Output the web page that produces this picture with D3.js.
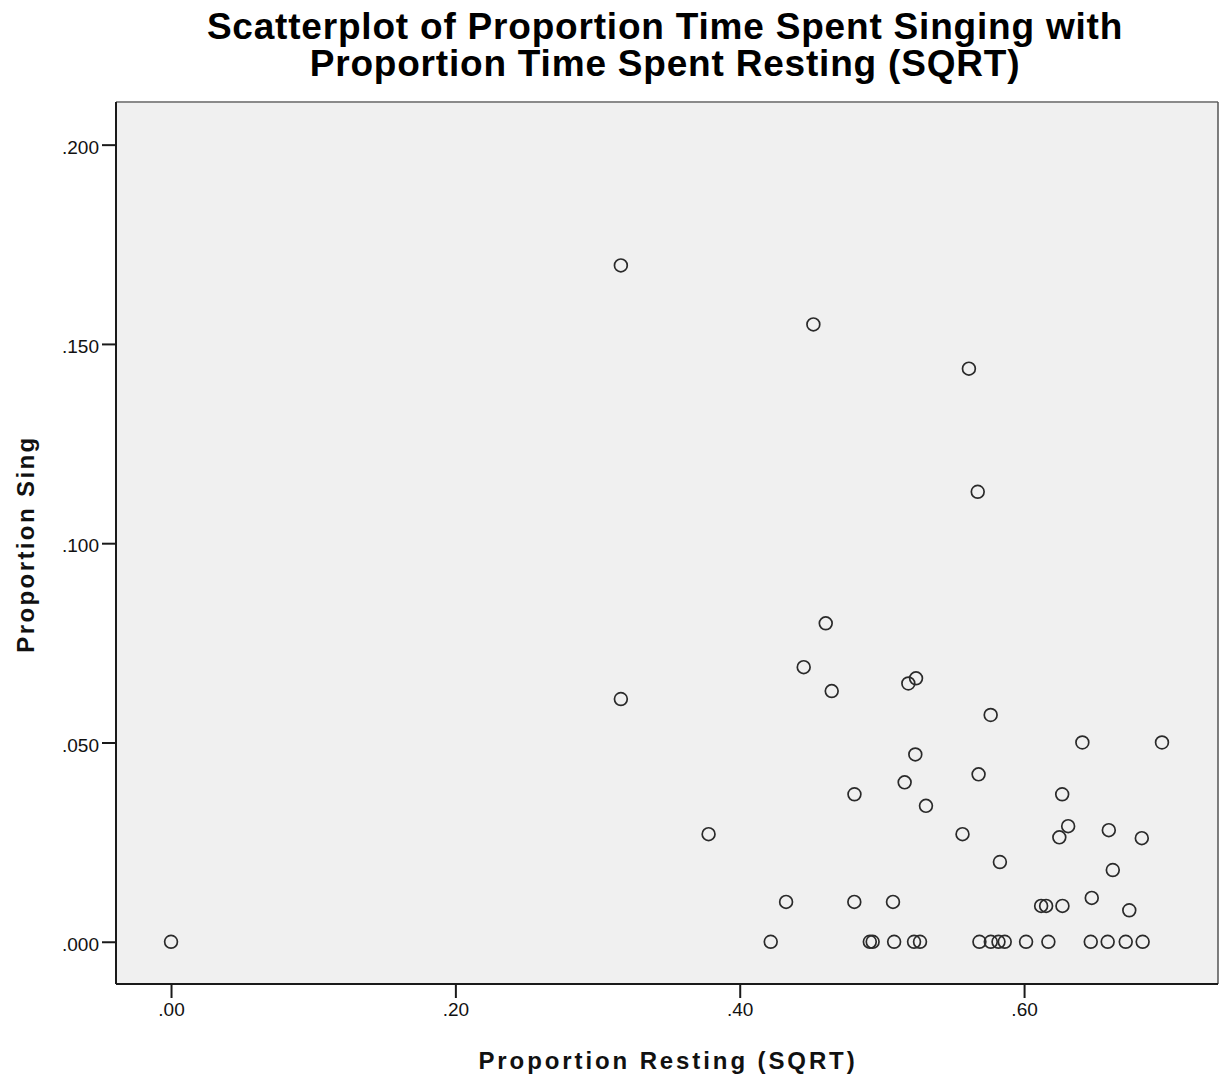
<!DOCTYPE html>
<html>
<head>
<meta charset="utf-8">
<script src="https://cdn.jsdelivr.net/npm/d3@7"></script>
<style>
body { margin: 0; background: #fff; }
</style>
</head>
<body>
<script>
var width = 1221;
var height = 1081;

// valori
var restingX = [0.000, 0.3164, 0.4518, 0.5612, 0.5674, 0.4605, 0.4450, 0.4647, 0.5186, 0.5240,
    0.3164, 0.5765, 0.6410, 0.6970, 0.5235, 0.5680, 0.5160, 0.4807, 0.6268, 0.5310,
    0.3781, 0.5567, 0.6310, 0.6248, 0.6596, 0.6828, 0.5830, 0.6624, 0.6476, 0.6740,
    0.4326, 0.4806, 0.5078, 0.6120, 0.6155, 0.6270,
    0.4218, 0.4915, 0.4935, 0.5086, 0.5226, 0.5268, 0.5686, 0.5766, 0.5820, 0.5864,
    0.6014, 0.6171, 0.6469, 0.6588, 0.6715, 0.6834];
var singY = [0.000, 0.1697, 0.1549, 0.1438, 0.1129, 0.0799, 0.0689, 0.0629, 0.0648, 0.0661,
    0.0609, 0.0569, 0.0500, 0.0500, 0.0470, 0.0420, 0.0400, 0.0370, 0.0370, 0.0341,
    0.0270, 0.0270, 0.0290, 0.0262, 0.0280, 0.0260, 0.0200, 0.0180, 0.0110, 0.0079,
    0.0100, 0.0100, 0.0100, 0.0090, 0.0090, 0.0090,
    0.000, 0.000, 0.000, 0.000, 0.000, 0.000, 0.000, 0.000, 0.000, 0.000,
    0.000, 0.000, 0.000, 0.000, 0.000, 0.000];

var xTicks = [0, 0.2, 0.4, 0.6];
var yTicks = [0, 0.05, 0.1, 0.15, 0.2];

var titolo = ["Scatterplot of Proportion Time Spent Singing with",
    "Proportion Time Spent Resting (SQRT)"];
var xLabel = "Proportion Resting (SQRT)";
var yLabel = "Proportion Sing";

var pLeft = 116, pRight = 1218, pTop = 102, pBottom = 984;

var svg = d3.select("body")
    .append("svg")
    .attr("width", width)
    .attr("height", height)
    .style("font-family", "'Liberation Sans', Arial, sans-serif");

var x = d3.scaleLinear().domain([-0.0387, 0.7364]).range([pLeft, pRight]);
var y = d3.scaleLinear().domain([-0.0106, 0.2107]).range([pBottom, pTop]);

svg.append("rect")
    .attr("x", pLeft)
    .attr("y", pTop)
    .attr("width", pRight - pLeft)
    .attr("height", pBottom - pTop)
    .attr("fill", "#f0f0f0");

// bordi alto e destra grigi
svg.append("line")
    .attr("x1", pLeft).attr("x2", pRight)
    .attr("y1", pTop).attr("y2", pTop)
    .attr("stroke", "#8a8a8a").attr("stroke-width", 2);
svg.append("line")
    .attr("x1", pRight).attr("x2", pRight)
    .attr("y1", pTop).attr("y2", pBottom)
    .attr("stroke", "#555").attr("stroke-width", 1.5);

var xAxis = d3.axisBottom(x)
    .tickValues(xTicks)
    .tickSize(14)
    .tickPadding(5)
    .tickFormat(function(d) { return d3.format(".2f")(d).replace(/^0/, ""); });

var yAxis = d3.axisLeft(y)
    .tickValues(yTicks)
    .tickSize(14)
    .tickPadding(3)
    .tickFormat(function(d) { return d3.format(".3f")(d).replace(/^0/, ""); });

var gx = svg.append("g")
    .attr("transform", "translate(0," + pBottom + ")")
    .call(xAxis);
gx.select(".domain").attr("d", "M" + pLeft + ",0H" + pRight);

var gy = svg.append("g")
    .attr("transform", "translate(" + pLeft + ",0)")
    .call(yAxis);
gy.select(".domain").attr("d", "M0," + pTop + "V" + pBottom);

svg.selectAll(".domain")
    .attr("stroke", "#1a1a1a")
    .attr("stroke-width", 2);
svg.selectAll(".tick line")
    .attr("stroke", "#1a1a1a")
    .attr("stroke-width", 2);
svg.selectAll(".tick text")
    .attr("fill", "#111")
    .style("font-size", "19px")
    .style("font-family", "'Liberation Sans', Arial, sans-serif");
gy.selectAll(".tick text").attr("dy", "0.45em");

svg.append("g")
    .selectAll("circle")
    .data(restingX)
    .enter()
    .append("circle")
    .attr("cx", function(d) { return x(d); })
    .attr("cy", function(d, i) { return y(singY[i]); })
    .attr("r", 6.4)
    .attr("fill", "none")
    .attr("stroke", "#2a2a2a")
    .attr("stroke-width", 1.7);

svg.append("g")
    .selectAll("text")
    .data(titolo)
    .enter()
    .append("text")
    .attr("x", 665)
    .attr("y", function(d, i) { return 39 + i * 37; })
    .attr("text-anchor", "middle")
    .style("font-size", "37px")
    .style("font-weight", "bold")
    .style("letter-spacing", "0.8px")
    .attr("fill", "#000")
    .text(function(d) { return d; });

svg.append("text")
    .attr("x", 668)
    .attr("y", 1069)
    .attr("text-anchor", "middle")
    .style("font-size", "24px")
    .style("font-weight", "bold")
    .style("letter-spacing", "2.9px")
    .attr("fill", "#111")
    .text(xLabel);

svg.append("text")
    .attr("transform", "translate(34,544) rotate(-90)")
    .attr("text-anchor", "middle")
    .style("font-size", "24px")
    .style("font-weight", "bold")
    .style("letter-spacing", "2.4px")
    .attr("fill", "#111")
    .text(yLabel);
</script>
</body>
</html>
